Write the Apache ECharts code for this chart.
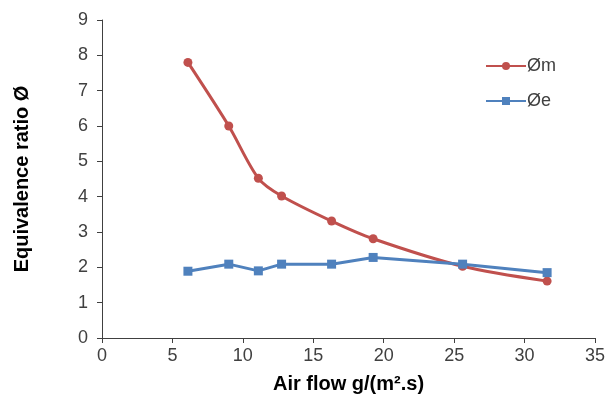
<!DOCTYPE html>
<html><head><meta charset="utf-8">
<script src="https://cdn.jsdelivr.net/npm/echarts@6/dist/echarts.min.js"></script>
<style>html,body{margin:0;padding:0;background:#fff}#c{width:615px;height:403px}</style>
</head><body><div id="c"></div>
<script>
var airFlow = [6.1, 9.0, 11.1, 12.75, 16.3, 19.25, 25.6, 31.6];
var phiM = [7.8, 6.0, 4.52, 4.02, 3.31, 2.81, 2.03, 1.61];
var phiE = [1.89, 2.09, 1.9, 2.09, 2.09, 2.28, 2.09, 1.85];
var seriesNames = ['Øm', 'Øe'];
var xTitle = 'Air flow g/(m².s)';
var yTitle = 'Equivalence ratio Ø';

function pairs(xs, ys){ return xs.map(function(x,i){ return [x, ys[i]]; }); }

var FF = 'Liberation Sans, Arial, sans-serif';
var chart = echarts.init(document.getElementById('c'));
var axisTxt = {color:'#404040', fontSize:18, fontFamily:FF};
chart.setOption({
  animation:false,
  backgroundColor:'#fff',
  grid:{left:102, right:20, top:20, bottom:65},
  legend:{
    orient:'vertical', right:54, top:52, itemGap:17,
    itemWidth:40, itemHeight:10,
    textStyle:{color:'#404040', fontSize:18, fontFamily:FF, padding:[0,0,0,-4]},
    data:seriesNames
  },
  xAxis:{
    type:'value', min:0, max:35, interval:5,
    name:xTitle, nameLocation:'middle', nameGap:36,
    nameTextStyle:{color:'#000', fontSize:20, fontWeight:'bold', fontFamily:FF},
    axisLine:{show:true, lineStyle:{color:'#404040', width:1}},
    axisTick:{show:true, length:5, lineStyle:{color:'#404040'}},
    axisLabel:Object.assign({margin:9}, axisTxt),
    splitLine:{show:false}
  },
  yAxis:{
    type:'value', min:0, max:9, interval:1,
    name:yTitle, nameLocation:'middle', nameGap:70,
    nameTextStyle:{color:'#000', fontSize:20, fontWeight:'bold', fontFamily:FF},
    axisLine:{show:true, lineStyle:{color:'#404040', width:1}},
    axisTick:{show:true, length:5, lineStyle:{color:'#404040'}},
    axisLabel:Object.assign({margin:14}, axisTxt),
    splitLine:{show:false}
  },
  series:[
    {name:seriesNames[0], type:'line', data:pairs(airFlow, phiM), smooth:0.3,
     symbol:'circle', symbolSize:9, color:'#C0504D',
     lineStyle:{width:3, color:'#C0504D'}, itemStyle:{color:'#C0504D'}},
    {name:seriesNames[1], type:'line', data:pairs(airFlow, phiE), smooth:false,
     symbol:'rect', symbolSize:9, color:'#4F81BD',
     lineStyle:{width:3, color:'#4F81BD'}, itemStyle:{color:'#4F81BD'}}
  ]
});
</script></body></html>
